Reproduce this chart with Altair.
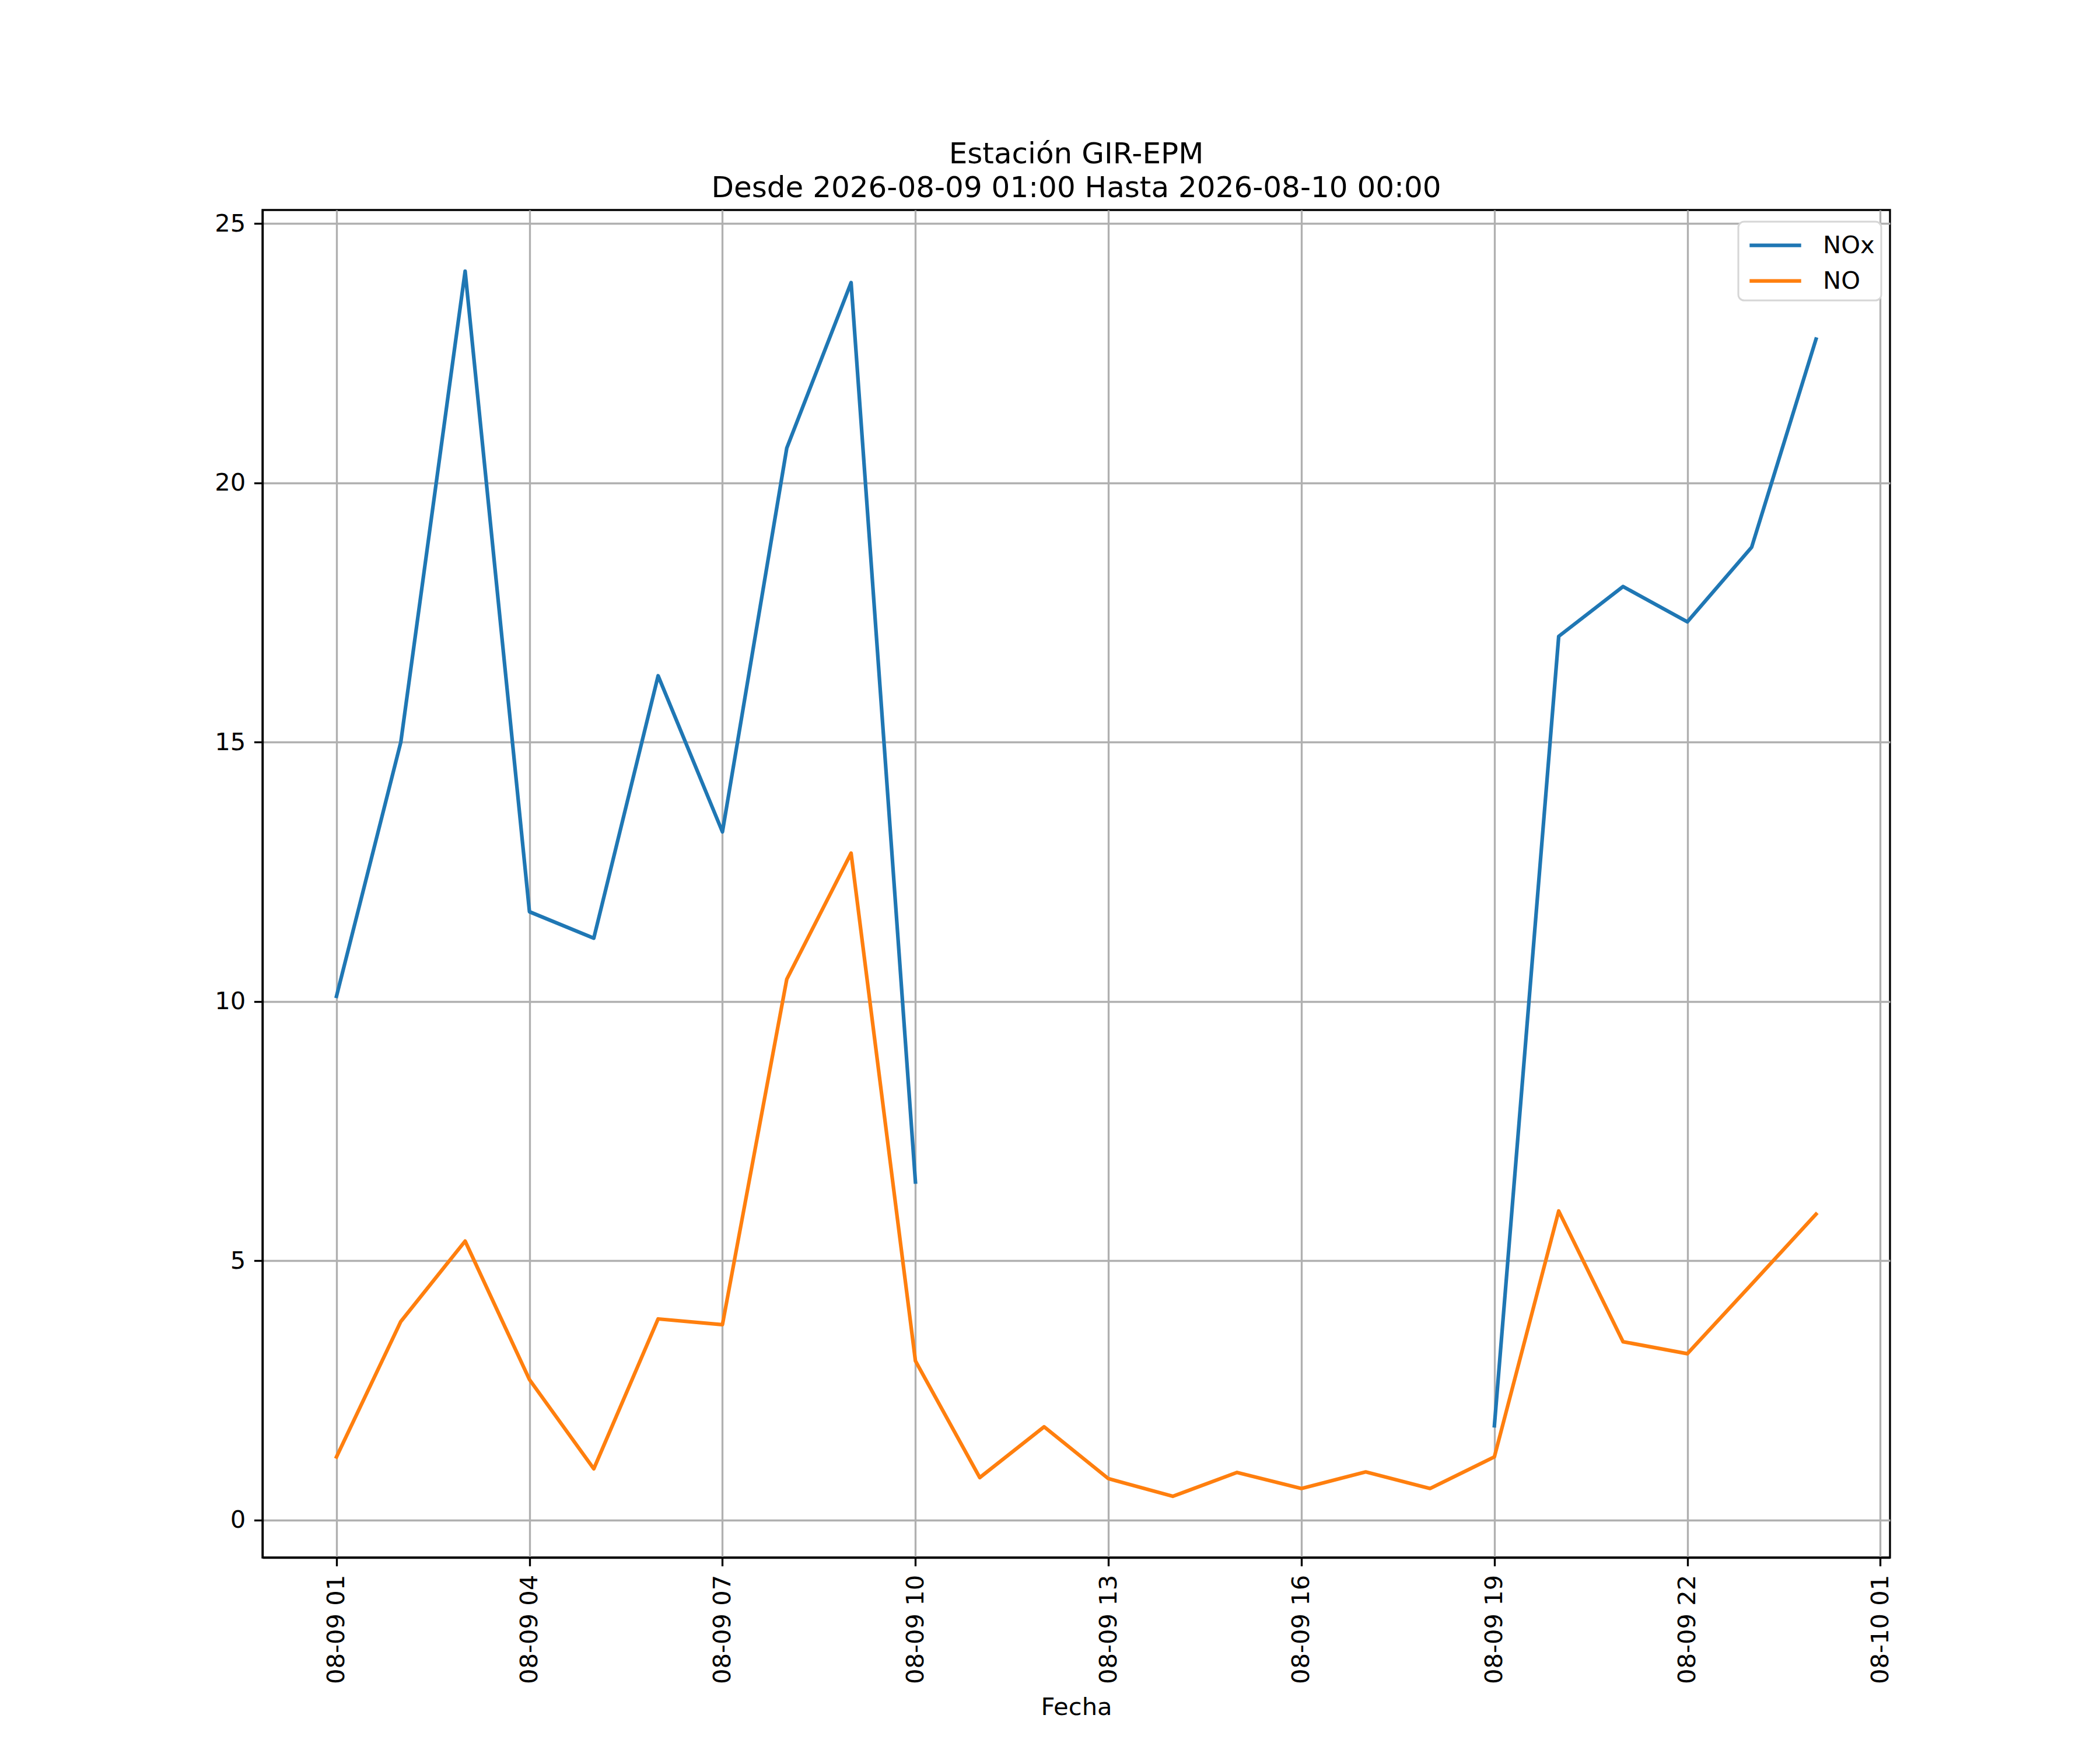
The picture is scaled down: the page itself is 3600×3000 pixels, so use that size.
import altair as alt
import pandas as pd

# ---- data ----
horas = [
    "2026-08-09T01:00:00Z", "2026-08-09T02:00:00Z", "2026-08-09T03:00:00Z", "2026-08-09T04:00:00Z",
    "2026-08-09T05:00:00Z", "2026-08-09T06:00:00Z", "2026-08-09T07:00:00Z", "2026-08-09T08:00:00Z",
    "2026-08-09T09:00:00Z", "2026-08-09T10:00:00Z", "2026-08-09T11:00:00Z", "2026-08-09T12:00:00Z",
    "2026-08-09T13:00:00Z", "2026-08-09T14:00:00Z", "2026-08-09T15:00:00Z", "2026-08-09T16:00:00Z",
    "2026-08-09T17:00:00Z", "2026-08-09T18:00:00Z", "2026-08-09T19:00:00Z", "2026-08-09T20:00:00Z",
    "2026-08-09T21:00:00Z", "2026-08-09T22:00:00Z", "2026-08-09T23:00:00Z", "2026-08-10T00:00:00Z",
]
nox = [10.10, 15.00, 24.08, 11.73, 11.22, 16.28, 13.27, 20.67, 23.86, 6.52,
       None, None, None, None, None, None, None, None,
       1.82, 17.04, 18.00, 17.32, 18.76, 22.77]
no = [1.22, 3.83, 5.38, 2.71, 0.99, 3.88, 3.77, 10.43, 12.86, 3.07,
      0.82, 1.80, 0.80, 0.46, 0.92, 0.61, 0.93, 0.61,
      1.22, 5.96, 3.44, 3.21, 4.55, 5.90]
series = ["NOx", "NO"]
colors = ["#1f77b4", "#ff7f0e"]
tick_times = ["2026-08-09T01:00:00Z", "2026-08-09T04:00:00Z", "2026-08-09T07:00:00Z",
              "2026-08-09T10:00:00Z", "2026-08-09T13:00:00Z", "2026-08-09T16:00:00Z",
              "2026-08-09T19:00:00Z", "2026-08-09T22:00:00Z", "2026-08-10T01:00:00Z"]
x_domain = ["2026-08-08T23:51:00Z", "2026-08-10T01:09:00Z"]
y_domain = [-0.72, 25.26]
y_ticks = [0, 5, 10, 15, 20, 25]

titulo = ["Estación GIR-EPM", "Desde 2026-08-09 01:00 Hasta 2026-08-10 00:00"]


def ms(s):
    return int(pd.Timestamp(s).value // 10**6)


rows = []
for name, vals in zip(series, [nox, no]):
    for h, v in zip(horas, vals):
        rows.append({"fecha": ms(h), "valor": v, "serie": name})
df = pd.DataFrame(rows)

FONT = "DejaVu Sans"
FS = 41.67
W, H = 2790, 2310

chart = (
    alt.Chart(df)
    .mark_line(strokeWidth=6.25, strokeCap="square", strokeJoin="round",
               invalid="break-paths-filter-domains")
    .encode(
        x=alt.X(
            "fecha:T",
            scale=alt.Scale(type="utc", domain=[ms(d) for d in x_domain]),
            axis=alt.Axis(
                values=[ms(t) for t in tick_times],
                labelExpr="utcFormat(datum.value, '%m-%d %H')",
                labelAngle=270,
                labelAlign="right",
                labelBaseline="middle",
                labelLimit=1000,
                title="Fecha",
                titlePadding=36,
            ),
        ),
        y=alt.Y(
            "valor:Q",
            scale=alt.Scale(domain=y_domain, nice=False, zero=False),
            axis=alt.Axis(values=y_ticks, title=""),
        ),
        color=alt.Color(
            "serie:N",
            scale=alt.Scale(domain=series, range=colors),
            legend=alt.Legend(
                title=None,
                orient="none",
                legendX=2530,
                legendY=20,
                symbolType="M-1.7,0H1.7",
                symbolSize=2704,
                symbolOffset=23,
                symbolStrokeWidth=6.25,
                labelFontSize=FS,
                labelFont=FONT,
                labelColor="black",
                labelOffset=52,
                strokeColor="#d6d6d6",
                cornerRadius=10,
                fillColor="white",
            ),
        ),
    )
    .properties(
        width=W,
        height=H,
        title=alt.TitleParams(
            text=titulo,
            font=FONT,
            fontSize=50,
            fontWeight="normal",
            color="black",
            anchor="middle",
            frame="group",
            lineHeight=58,
            offset=12,
        ),
        autosize=alt.AutoSizeParams(type="none"),
        padding={"left": 442, "top": 352, "right": 352, "bottom": 322},
        background="white",
    )
    .configure_view(stroke="black", strokeWidth=3.33)
    .configure_legend(padding=11, rowPadding=9, strokeWidth=3)
    .configure_axis(
        labelFont=FONT,
        labelFontSize=FS,
        labelColor="black",
        titleFont=FONT,
        titleFontSize=FS,
        titleFontWeight="normal",
        titleColor="black",
        grid=True,
        gridColor="#b0b0b0",
        gridWidth=3.33,
        domain=True,
        domainColor="black",
        domainWidth=3.33,
        ticks=True,
        tickColor="black",
        tickWidth=3.33,
        tickSize=14.6,
        labelPadding=14.6,
    )
)

chart.save("out.html", embed_options={"renderer": "svg", "actions": False})
